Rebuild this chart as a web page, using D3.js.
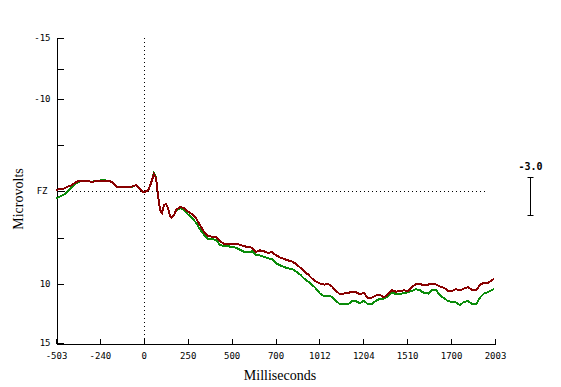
<!DOCTYPE html>
<html>
<head>
<meta charset="utf-8">
<script src="https://cdn.jsdelivr.net/npm/d3@7"></script>
<style>
  body { margin: 0; background: #fff; }
  svg { display: block; }
</style>
</head>
<body>
<div id="chart"></div>
<script>
// sample times (ms), one per plotted point
const times = [
  -503, -480, -457, -434, -411, -389, -366, -343, -320, -297, -275, -252, -229, -206, -183, -160, -138, -115, -92, -69, -46, -23,
  -12, -1, 11, 22, 34, 45, 56, 68, 79, 91, 102, 114, 125, 136, 148, 159, 171, 182,
  205, 228, 251, 273, 296, 319, 342, 365, 388, 410, 433, 456, 479, 502, 524, 547, 570, 593, 616, 639,
  661, 684, 707, 730, 753, 776, 798, 821, 844, 867, 890, 913, 936, 958, 981, 1004, 1027, 1050, 1073, 1095,
  1118, 1141, 1164, 1187, 1210, 1232, 1255, 1278, 1301, 1324, 1347, 1369, 1392, 1415, 1438, 1461, 1484, 1506, 1529, 1552,
  1575, 1598, 1621, 1643, 1666, 1689, 1712, 1735, 1758, 1780, 1803, 1826, 1849, 1872, 1895, 1918, 1940, 1963, 1986, 1997
];

// microvolts, negative up
const redValues = [
  -0.11, -0.22, -0.27, -0.49, -0.65, -0.97, -1.14, -1.08, -1.08, -0.97, -1.08, -1.14, -1.14, -1.14, -0.97, -0.49, -0.43, -0.43, -0.38, -0.49, -0.65, -0.22,
  0.05, 0.16, 0, -0.05, -0.54, -1.19, -1.84, -1.41, 0.43, 2.05, 2.38, 1.51, 1.41, 1.84, 2.70, 2.86, 2.59, 2.05,
  1.73, 1.84, 2.22, 2.49, 2.92, 3.68, 4.38, 4.81, 4.92, 4.97, 5.41, 5.68, 5.68, 5.73, 5.68, 5.78, 5.95, 6.00, 6.11, 6.54,
  6.38, 6.49, 6.65, 6.59, 6.92, 7.14, 7.30, 7.46, 7.57, 7.84, 8.22, 8.65, 8.97, 9.41, 9.73, 9.95, 10.05, 10.0, 10.22, 10.59,
  10.86, 10.81, 10.76, 10.65, 10.70, 10.86, 10.76, 11.19, 11.14, 10.97, 10.92, 11.14, 10.86, 10.54, 10.65, 10.59, 10.54, 10.59, 10.27, 10.0,
  10.0, 10.11, 10.05, 9.95, 10.05, 10.22, 10.32, 10.59, 10.59, 10.43, 10.54, 10.38, 10.27, 10.49, 10.54, 10.05, 9.89, 9.89, 9.57, 9.46
];

const greenValues = [
  0.81, 0.59, 0.38, 0, -0.43, -0.81, -1.08, -1.08, -1.08, -0.97, -1.14, -1.14, -1.19, -1.08, -0.97, -0.49, -0.38, -0.43, -0.38, -0.43, -0.65, -0.22,
  0.05, 0.16, 0, -0.05, -0.54, -1.24, -1.95, -1.46, 0.43, 2.05, 2.38, 1.51, 1.41, 1.84, 2.70, 2.86, 2.59, 2.16,
  1.84, 2.05, 2.54, 2.86, 3.41, 4.11, 4.70, 5.14, 5.19, 5.24, 5.78, 5.95, 5.95, 6.00, 6.11, 6.32, 6.54, 6.59, 6.49, 6.86,
  6.92, 7.08, 7.24, 7.30, 7.78, 8.00, 8.16, 8.32, 8.38, 8.65, 8.97, 9.41, 9.73, 10.05, 10.38, 10.81, 11.03, 10.97, 11.08, 11.41,
  11.73, 11.73, 11.73, 11.46, 11.46, 11.62, 11.41, 11.73, 11.68, 11.41, 11.24, 11.24, 11.03, 10.70, 10.86, 10.86, 10.76, 10.70, 10.59, 10.43,
  10.54, 10.76, 10.81, 10.49, 10.49, 10.97, 11.19, 11.46, 11.51, 11.57, 11.78, 11.51, 11.46, 11.68, 11.73, 11.14, 10.81, 10.70, 10.49, 10.43
];

const xTickLabels = ["-503", "-240", "0", "250", "500", "700", "1012", "1204", "1510", "1700", "2003"];
const yTickValues = [-15, -12.5, -10, -5, 0, 5, 10, 15];
const yTickLabels = { "-15": "-15", "-10": "-10", "0": "FZ", "10": "10", "15": "15" };
const scaleBarLabel = "-3.0";

const width = 561, height = 387;

const svg = d3.select("#chart").append("svg")
    .attr("width", width)
    .attr("height", height);

const x = d3.scaleLinear().domain([-503, 2003]).range([56, 495]);
// the original plot's vertical spacing is uneven, so use a piecewise scale
const y = d3.scaleLinear().domain([-15, -10, 0, 10, 15]).range([38, 99, 191, 284, 343]);

const tickFont = "'DejaVu Sans Mono', monospace";

// dotted reference lines at 0 ms and 0 uV
svg.append("line")
    .attr("x1", Math.round(x(0)) + 0.5).attr("x2", Math.round(x(0)) + 0.5)
    .attr("y1", y(-15)).attr("y2", y(15))
    .attr("stroke", "#000").attr("stroke-dasharray", "1,3");

svg.append("line")
    .attr("x1", x(-503) + 4).attr("x2", 488)
    .attr("y1", y(0) + 0.5).attr("y2", y(0) + 0.5)
    .attr("stroke", "#000").attr("stroke-dasharray", "1,3");

// x axis
const xTicks = d3.range(11).map(i => -503 + i * 250.6);
const xAxis = d3.axisBottom(x)
    .tickValues(xTicks)
    .tickFormat((d, i) => xTickLabels[i])
    .tickSizeInner(-5)
    .tickSizeOuter(0)
    .tickPadding(9);

const gx = svg.append("g")
    .attr("transform", `translate(0,${y(15) + 0.5})`)
    .call(xAxis);
gx.selectAll("text").attr("font-family", tickFont).attr("font-size", 9);

// y axis
const yAxis = d3.axisLeft(y)
    .tickValues(yTickValues)
    .tickFormat(d => yTickLabels[d] || "")
    .tickSizeInner(-7)
    .tickSizeOuter(0)
    .tickPadding(6);

const gy = svg.append("g")
    .attr("transform", `translate(${x(-503) + 0.5},0)`)
    .call(yAxis);
gy.selectAll("text").attr("font-family", tickFont).attr("font-size", 9)
    .attr("dx", d => d === 0 ? -3 : 0);

svg.selectAll(".domain, .tick line").attr("stroke", "#000").attr("shape-rendering", "crispEdges");

// axis titles
svg.append("text")
    .attr("x", 280).attr("y", 380)
    .attr("text-anchor", "middle")
    .attr("font-family", "'Liberation Serif', serif")
    .attr("font-size", 14)
    .text("Milliseconds");

svg.append("text")
    .attr("transform", "translate(23,199) rotate(-90)")
    .attr("text-anchor", "middle")
    .attr("font-family", "'Liberation Serif', serif")
    .attr("font-size", 14)
    .text("Microvolts");

// waveforms
const line = d3.line()
    .x(d => x(d[0]))
    .y(d => y(d[1]));

svg.append("path")
    .datum(times.map((t, i) => [t, greenValues[i]]))
    .attr("d", line)
    .attr("fill", "none")
    .attr("stroke", "#0a8c0a")
    .attr("stroke-width", 2)
    .attr("shape-rendering", "crispEdges");

svg.append("path")
    .datum(times.map((t, i) => [t, redValues[i]]))
    .attr("d", line)
    .attr("fill", "none")
    .attr("stroke", "#880000")
    .attr("stroke-width", 2)
    .attr("shape-rendering", "crispEdges");

// scale bar on the right
const bar = svg.append("g").attr("transform", "translate(530.5,0)");
bar.append("text")
    .attr("x", 0).attr("y", 170)
    .attr("text-anchor", "middle")
    .attr("font-family", tickFont)
    .attr("font-size", 10)
    .attr("font-weight", "bold")
    .text(scaleBarLabel);
bar.append("line").attr("x1", 0).attr("x2", 0).attr("y1", 177).attr("y2", 216).attr("stroke", "#000");
bar.append("line").attr("x1", -3).attr("x2", 3).attr("y1", 177.5).attr("y2", 177.5).attr("stroke", "#000");
bar.append("line").attr("x1", -3).attr("x2", 3).attr("y1", 215.5).attr("y2", 215.5).attr("stroke", "#000");
</script>
</body>
</html>
